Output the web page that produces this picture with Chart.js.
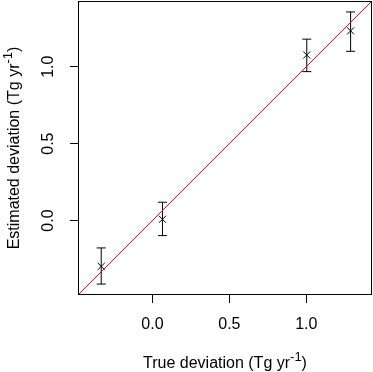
<!DOCTYPE html>
<html>
<head>
<meta charset="utf-8">
<script src="https://cdn.jsdelivr.net/npm/chart.js@4.4.1/dist/chart.umd.min.js"></script>
<style>
  html, body { margin: 0; padding: 0; background: #ffffff; }
  #wrap { width: 373px; height: 372px; }
  canvas { display: block; }
</style>
</head>
<body>
<div id="wrap"><canvas id="c" width="373" height="372"></canvas></div>
<script>
// ---- data ----
const trueDeviation = [-0.333, 0.065, 1.003, 1.288];
const estimatedDeviation = [-0.298, 0.008, 1.076, 1.233];
const errorLower = [-0.413, -0.098, 0.968, 1.100];
const errorUpper = [-0.178, 0.119, 1.179, 1.356];
const axisRange = [-0.484, 1.427];
const tickValues = [0.0, 0.5, 1.0];
const xTitle = ['True deviation (Tg yr', '-1', ')'];
const yTitle = ['Estimated deviation (Tg yr', '-1', ')'];

const FONT = '"Liberation Sans", Arial, Helvetica, sans-serif';

const points = trueDeviation.map((x, i) => ({ x: x, y: estimatedDeviation[i] }));
const oneToOne = axisRange.map(v => ({ x: v, y: v }));

const errorBarPlugin = {
  id: 'errorBars',
  beforeDatasetsDraw(chart) {
    const ctx = chart.ctx;
    const xs = chart.scales.x, ys = chart.scales.y;
    ctx.save();
    ctx.strokeStyle = '#000000';
    ctx.lineWidth = 1;
    const cap = 4.5;
    for (let i = 0; i < trueDeviation.length; i++) {
      const px = xs.getPixelForValue(trueDeviation[i]);
      const pLo = ys.getPixelForValue(errorLower[i]);
      const pHi = ys.getPixelForValue(errorUpper[i]);
      ctx.beginPath();
      ctx.moveTo(px, pLo); ctx.lineTo(px, pHi);
      ctx.moveTo(px - cap, pLo); ctx.lineTo(px + cap, pLo);
      ctx.moveTo(px - cap, pHi); ctx.lineTo(px + cap, pHi);
      ctx.stroke();
    }
    ctx.restore();
  }
};

function drawSupTitle(ctx, parts, size, supSize) {
  ctx.font = size + 'px ' + FONT;
  const w0 = ctx.measureText(parts[0]).width;
  const w2 = ctx.measureText(parts[2]).width;
  ctx.font = supSize + 'px ' + FONT;
  const w1 = ctx.measureText(parts[1]).width;
  const total = w0 + w1 + w2;
  let x = -total / 2;
  ctx.textAlign = 'left';
  ctx.textBaseline = 'alphabetic';
  ctx.font = size + 'px ' + FONT;
  ctx.fillText(parts[0], x, 0);
  x += w0;
  ctx.font = supSize + 'px ' + FONT;
  ctx.fillText(parts[1], x, -6.5);
  x += w1;
  ctx.font = size + 'px ' + FONT;
  ctx.fillText(parts[2], x, 0);
}

const framePlugin = {
  id: 'frameAndTitles',
  afterDraw(chart) {
    const ctx = chart.ctx;
    const a = chart.chartArea;
    ctx.save();
    ctx.strokeStyle = '#000000';
    ctx.lineWidth = 1;
    ctx.strokeRect(Math.round(a.left) + 0.5, Math.round(a.top) + 0.5,
                   Math.round(a.right - a.left) - 1, Math.round(a.bottom - a.top) - 1);
    ctx.fillStyle = '#000000';
    // x title
    ctx.save();
    ctx.translate((a.left + a.right) / 2, 367.5);
    drawSupTitle(ctx, xTitle, 16, 13);
    ctx.restore();
    // y title
    ctx.save();
    ctx.translate(18.5, (a.top + a.bottom) / 2);
    ctx.rotate(-Math.PI / 2);
    drawSupTitle(ctx, yTitle, 16, 13);
    ctx.restore();
    ctx.restore();
  }
};

function zeroPadding(scale) {
  scale.paddingLeft = 0;
  scale.paddingRight = 0;
  scale.paddingTop = 0;
  scale.paddingBottom = 0;
}

const axisCommon = {
  type: 'linear',
  min: axisRange[0],
  max: axisRange[1],
  afterBuildTicks(scale) { scale.ticks = tickValues.map(v => ({ value: v })); },
  grid: {
    drawOnChartArea: false,
    drawTicks: true,
    tickLength: 8,
    tickColor: '#000000',
    tickWidth: 1,
    color: '#000000'
  },
  border: { display: false },
  title: { display: false }
};

new Chart(document.getElementById('c'), {
  type: 'scatter',
  data: {
    datasets: [
      {
        type: 'line',
        label: '1:1',
        data: oneToOne,
        borderColor: '#ff0000',
        borderWidth: 1,
        pointRadius: 0,
        fill: false
      },
      {
        label: 'estimates',
        data: points,
        pointStyle: 'crossRot',
        pointRadius: 5,
        pointBorderColor: '#000000',
        pointBorderWidth: 1,
        borderColor: '#000000',
        backgroundColor: 'rgba(0,0,0,0)',
        showLine: false
      }
    ]
  },
  options: {
    responsive: false,
    devicePixelRatio: 1,
    animation: false,
    events: [],
    layout: { autoPadding: false, padding: { top: 1, right: 1, left: 0, bottom: 0 } },
    plugins: {
      legend: { display: false },
      tooltip: { enabled: false }
    },
    scales: {
      x: Object.assign({}, axisCommon, {
        position: 'bottom',
        afterFit(scale) { scale.height = 77; zeroPadding(scale); },
        ticks: {
          color: '#000000',
          font: { family: FONT, size: 16 },
          padding: 12,
          maxRotation: 0,
          minRotation: 0,
          callback: v => Number(v).toFixed(1)
        }
      }),
      y: Object.assign({}, axisCommon, {
        position: 'left',
        afterFit(scale) { scale.width = 78; zeroPadding(scale); },
        ticks: {
          color: '#000000',
          font: { family: FONT, size: 16 },
          padding: 10,
          minRotation: 90,
          maxRotation: 90,
          crossAlign: 'center',
          callback: v => Number(v).toFixed(1)
        }
      })
    }
  },
  plugins: [errorBarPlugin, framePlugin]
});
</script>
</body>
</html>
